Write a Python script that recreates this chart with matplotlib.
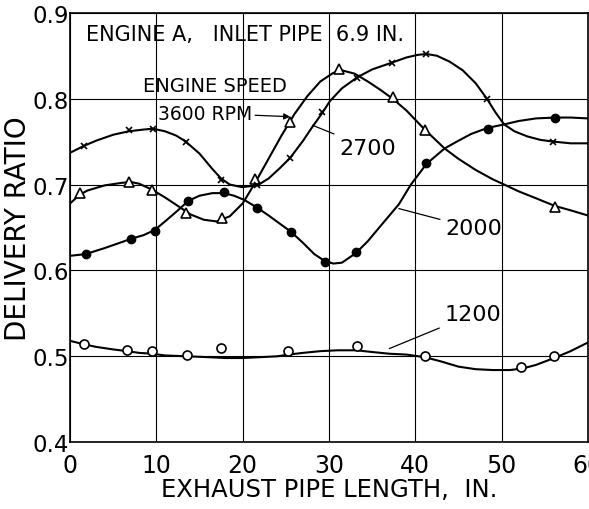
import matplotlib
matplotlib.use("Agg")
import matplotlib.pyplot as plt

# Delivery ratio vs exhaust pipe length, engine A, inlet pipe 6.9 in.

# measured points (markers)
x_3600 = [1.1, 6.8, 9.5, 13.4, 17.6, 21.4, 25.5, 31.2, 37.4, 41.1, 56.2]
y_3600 = [0.690, 0.703, 0.694, 0.667, 0.661, 0.706, 0.773, 0.834, 0.802, 0.764, 0.674]

x_2700 = [1.6, 6.8, 9.6, 13.4, 17.5, 21.7, 25.5, 29.2, 33.3, 37.3, 41.3, 48.3, 56.0]
y_2700 = [0.745, 0.763, 0.765, 0.750, 0.705, 0.699, 0.731, 0.784, 0.824, 0.841, 0.852, 0.800, 0.750]

x_2000 = [1.8, 7.1, 9.8, 13.7, 17.8, 21.7, 25.6, 29.5, 33.1, 41.3, 48.4, 56.2]
y_2000 = [0.619, 0.637, 0.646, 0.681, 0.691, 0.673, 0.645, 0.610, 0.622, 0.725, 0.765, 0.778]

x_1200 = [1.6, 6.6, 9.5, 13.6, 17.5, 25.3, 33.2, 41.1, 52.2, 56.1]
y_1200 = [0.514, 0.507, 0.506, 0.501, 0.510, 0.506, 0.512, 0.500, 0.488, 0.500]

# faired curves
cx_3600 = [0, 1.1, 2, 4, 6, 7, 8, 9.5, 11, 12.5, 14, 15.5, 17, 18.5, 20, 21.5, 23, 24.5, 26,
           27.5, 29, 30.5, 31.5, 33, 34.5, 36, 37.5, 39, 41, 43.4, 45, 47, 49, 50.3, 52, 54,
           56.2, 58, 60]
cy_3600 = [0.678, 0.688, 0.693, 0.699, 0.702, 0.703, 0.701, 0.694, 0.685, 0.675, 0.665, 0.659,
           0.657, 0.663, 0.678, 0.703, 0.730, 0.757, 0.782, 0.803, 0.820, 0.830, 0.833, 0.829,
           0.820, 0.810, 0.799, 0.786, 0.765, 0.742, 0.730, 0.717, 0.706, 0.700, 0.692, 0.684,
           0.675, 0.670, 0.664]

cx_2700 = [0, 1.6, 3, 5, 6.8, 8.5, 9.6, 11, 12.3, 13.4, 15, 16.5, 17.5, 18.5, 19.9, 21.7, 23,
           24.3, 25.5, 27, 28, 29.2, 30.1, 31.5, 33.3, 35, 37.3, 39, 40.3, 41.3, 42.5, 44, 45.5,
           47, 48.3, 49.3, 50.3, 51.5, 53, 54.5, 56, 58, 60]
cy_2700 = [0.737, 0.745, 0.751, 0.758, 0.762, 0.764, 0.765, 0.762, 0.757, 0.750, 0.736, 0.718,
           0.707, 0.700, 0.697, 0.699, 0.707, 0.719, 0.731, 0.751, 0.766, 0.783, 0.797, 0.812,
           0.825, 0.834, 0.842, 0.848, 0.851, 0.852, 0.850, 0.843, 0.833, 0.818, 0.800, 0.784,
           0.770, 0.762, 0.756, 0.752, 0.750, 0.748, 0.748]

cx_2000 = [0, 1.8, 4, 6, 7.1, 8.5, 9.8, 11, 12.5, 13.7, 15, 16.5, 17.8, 19, 20.2, 21.7, 23,
           24.5, 25.6, 27, 28.3, 29.5, 30.5, 31.5, 33.1, 34.5, 36, 38.1, 39.5, 41.3, 43.4, 45,
           46.5, 48.4, 50.3, 52, 54, 56.2, 58, 60]
cy_2000 = [0.617, 0.619, 0.626, 0.633, 0.637, 0.641, 0.647, 0.657, 0.670, 0.681, 0.687, 0.690,
           0.690, 0.687, 0.682, 0.673, 0.664, 0.653, 0.645, 0.632, 0.619, 0.611, 0.608, 0.609,
           0.620, 0.634, 0.652, 0.677, 0.700, 0.724, 0.742, 0.751, 0.759, 0.766, 0.770, 0.774,
           0.777, 0.778, 0.778, 0.777]

cx_1200 = [0, 1.6, 3, 5, 6.6, 8, 9.5, 11, 13.6, 16, 18, 20, 22, 24, 25.3, 27, 29, 31, 33.2, 35,
           37, 39, 41.1, 43, 45, 47, 49, 51, 52.5, 54, 56.1, 58, 60]
cy_1200 = [0.518, 0.514, 0.511, 0.508, 0.506, 0.504, 0.503, 0.501, 0.500, 0.499, 0.498, 0.498,
           0.499, 0.500, 0.502, 0.504, 0.506, 0.507, 0.507, 0.505, 0.503, 0.502, 0.499, 0.494,
           0.488, 0.485, 0.484, 0.484, 0.486, 0.490, 0.498, 0.506, 0.516]

x_ticks = [0, 10, 20, 30, 40, 50, 60]
y_ticks = [0.4, 0.5, 0.6, 0.7, 0.8, 0.9]

plt.rcParams['font.family'] = ['DejaVu Sans']

fig = plt.figure(figsize=(5.89, 5.10), dpi=100)
ax = fig.add_axes([0.119, 0.131, 0.879, 0.842])

ax.set_xlim(0, 60)
ax.set_ylim(0.4, 0.9)
ax.set_xticks(x_ticks)
ax.set_yticks(y_ticks)
ax.set_xticklabels([str(v) for v in x_ticks], fontsize=17)
ax.set_yticklabels(['%.1f' % v for v in y_ticks], fontsize=16.5)
ax.tick_params(axis='both', length=0)
ax.tick_params(axis='y', pad=1)
ax.tick_params(axis='x', pad=8)
ax.grid(True, color='black', linewidth=0.8)
for s in ax.spines.values():
    s.set_linewidth(1.2)

lw = 1.5
ax.plot(cx_3600, cy_3600, color='black', lw=lw)
ax.plot(cx_2700, cy_2700, color='black', lw=lw)
ax.plot(cx_2000, cy_2000, color='black', lw=lw)
ax.plot(cx_1200, cy_1200, color='black', lw=lw)

ax.plot(x_3600, y_3600, '^', ms=7, mfc='white', mec='black', mew=1.2, ls='none')
ax.plot(x_2700, y_2700, 'x', ms=5, color='black', mew=1.2, ls='none')
ax.plot(x_2000, y_2000, 'o', ms=6, color='black', ls='none')
ax.plot(x_1200, y_1200, 'o', ms=6.5, mfc='white', mec='black', mew=1.2, ls='none')

ax.text(1.9, 0.875, 'ENGINE A,   INLET PIPE  6.9 IN.', fontsize=15, va='center', ha='left')
ax.text(8.5, 0.815, 'ENGINE SPEED', fontsize=14, va='center', ha='left')
ax.annotate('3600 RPM', xy=(25.5, 0.779), xytext=(10.2, 0.783), fontsize=13.5,
            va='center', ha='left',
            arrowprops=dict(arrowstyle='-|>', color='black', lw=0.9, mutation_scale=9,
                            shrinkA=0, shrinkB=0))
ax.annotate('2700', xy=(28.1, 0.769), xytext=(31.2, 0.743), fontsize=16,
            va='center', ha='left',
            arrowprops=dict(arrowstyle='-', color='black', lw=0.9, shrinkA=2, shrinkB=0))
ax.annotate('2000', xy=(38.1, 0.672), xytext=(43.5, 0.649), fontsize=16,
            va='center', ha='left',
            arrowprops=dict(arrowstyle='-', color='black', lw=0.9, shrinkA=2, shrinkB=0))
ax.annotate('1200', xy=(37.0, 0.509), xytext=(43.4, 0.549), fontsize=16,
            va='center', ha='left',
            arrowprops=dict(arrowstyle='-', color='black', lw=0.9, shrinkA=2, shrinkB=0))

ax.set_xlabel('EXHAUST PIPE LENGTH,  IN.', fontsize=17.5, labelpad=0)
ax.set_ylabel('DELIVERY RATIO', fontsize=20, labelpad=0)

fig.savefig('out.png', dpi=100)
